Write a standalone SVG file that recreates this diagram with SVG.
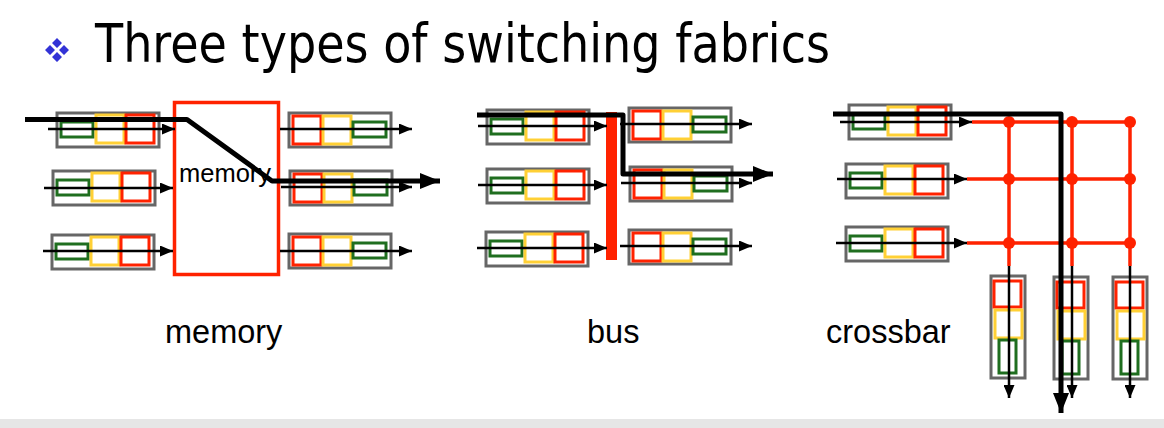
<svg xmlns="http://www.w3.org/2000/svg" xmlns:xlink="http://www.w3.org/1999/xlink" width="1164" height="428" viewBox="0 0 1164 428">
<style>
.box{fill:#fff;stroke:#666;stroke-width:3}
.g{fill:none;stroke:#1f6e1f;stroke-width:3}
.y{fill:none;stroke:#ffd035;stroke-width:3}
.r{fill:none;stroke:#ff2200;stroke-width:3}
.thin{fill:none;stroke:#000;stroke-width:2.5;marker-end:url(#ah)}
.thick{fill:none;stroke:#000;stroke-width:5;stroke-linejoin:round;marker-end:url(#bh)}
.xbar{fill:none;stroke:#ff2200;stroke-width:3.5}
.dot{fill:#ff2200}
.lbl{font-family:"Liberation Sans",Arial,sans-serif;font-size:32.5px;fill:#000}
.title{font-family:"DejaVu Sans",Tahoma,sans-serif;font-size:54px;fill:#000}
.bul{fill:#3333d6}
</style>
<defs>
<marker id="ah" markerUnits="userSpaceOnUse" markerWidth="13" markerHeight="11" refX="13" refY="5.5" orient="auto"><path d="M0,0 L13,5.5 L0,11 z" fill="#000"/></marker>
<marker id="bh" markerUnits="userSpaceOnUse" markerWidth="20" markerHeight="18" refX="20" refY="9" orient="auto"><path d="M0,1 L20,9 L0,17 z" fill="#000"/></marker>
<g id="inport"><rect class="box" x="0" y="0" width="102" height="34"/><rect class="g" x="4" y="9" width="32" height="15"/><rect class="y" x="39" y="2" width="28" height="28"/><rect class="r" x="69" y="2" width="28" height="28"/></g>
<g id="outport"><rect class="box" x="0" y="0" width="102" height="34"/><rect class="r" x="4" y="3" width="28" height="28"/><rect class="y" x="34" y="3" width="28" height="28"/><rect class="g" x="64" y="9" width="33" height="15"/></g>
<g id="colport"><rect class="box" x="0" y="0" width="34" height="102"/><rect class="r" x="3" y="5" width="27" height="26"/><rect class="y" x="4" y="34" width="27" height="28"/><rect class="g" x="8" y="64" width="17" height="33"/></g>
</defs>
<rect x="0" y="0" width="1164" height="428" fill="#fff"/>
<rect x="0" y="419" width="1164" height="9" fill="#e6e6e6"/>
<g id="title">
<path class="bul" d="M57,38 L62,43 L57,48 L52,43 z M50,45 L55,50 L50,55 L45,50 z M64,45 L69,50 L64,55 L59,50 z M57,52 L62,57 L57,62 L52,57 z"/>
<text class="title" x="95" y="62" textLength="735" lengthAdjust="spacingAndGlyphs">Three types of switching fabrics</text>
</g>
<g id="memory-fabric">
<rect x="174.5" y="102.5" width="104" height="172" fill="#fff" stroke="#ff2200" stroke-width="3.5"/>
<text x="179" y="182" font-family="Liberation Sans, Arial, sans-serif" font-size="25.5" fill="#000">memory</text>
</g>
<g id="mem-in1"><use xlink:href="#inport" x="57" y="113"/></g>
<g id="mem-in2"><use xlink:href="#inport" x="53" y="171"/></g>
<g id="mem-in3"><use xlink:href="#inport" x="52" y="235"/></g>
<g id="mem-out1"><use xlink:href="#outport" x="289" y="113"/></g>
<g id="mem-out2"><use xlink:href="#outport" x="290" y="171"/></g>
<g id="mem-out3"><use xlink:href="#outport" x="289" y="234"/></g>
<g id="bus-bar"><rect x="606" y="112" width="11" height="148" fill="#ff2200"/></g>
<g id="bus-in1"><use xlink:href="#inport" x="487" y="110"/></g>
<g id="bus-in2"><use xlink:href="#inport" x="487" y="169"/></g>
<g id="bus-in3"><use xlink:href="#inport" x="486" y="232"/></g>
<g id="bus-out1"><use xlink:href="#outport" x="629" y="108"/></g>
<g id="bus-out2"><use xlink:href="#outport" x="630" y="167"/></g>
<g id="bus-out3"><use xlink:href="#outport" x="629" y="230"/></g>
<g id="cb-in1"><use xlink:href="#inport" x="849" y="105"/></g>
<g id="cb-in2"><use xlink:href="#inport" x="846" y="164"/></g>
<g id="cb-in3"><use xlink:href="#inport" x="846" y="227"/></g>
<g id="cb-out1"><use xlink:href="#colport" x="991" y="276"/></g>
<g id="cb-out2"><use xlink:href="#colport" x="1054" y="277"/></g>
<g id="cb-out3"><use xlink:href="#colport" x="1113" y="277"/></g>
<g id="crossbar-grid">
<path class="xbar" d="M972,122 H1132 M967,179 H1132 M967,243 H1132 M1009,122 V266 M1072,122 V266 M1130,122 V266"/>
<circle class="dot" cx="1009" cy="122" r="6"/><circle class="dot" cx="1072" cy="122" r="6"/><circle class="dot" cx="1130" cy="122" r="6"/>
<circle class="dot" cx="1009" cy="179" r="6"/><circle class="dot" cx="1072" cy="179" r="6"/><circle class="dot" cx="1130" cy="179" r="6"/>
<circle class="dot" cx="1009" cy="243" r="6"/><circle class="dot" cx="1072" cy="243" r="6"/><circle class="dot" cx="1130" cy="243" r="6"/>
</g>
<g id="connectors">
<path class="thin" d="M48,129 H175"/>
<path class="thin" d="M44,188 H173"/>
<path class="thin" d="M43,251 H173"/>
<path class="thin" d="M280,129 H412"/>
<path class="thin" d="M281,187 H412"/>
<path class="thin" d="M280,251 H412"/>
<path class="thin" d="M478,126 H607"/>
<path class="thin" d="M478,185 H607"/>
<path class="thin" d="M477,248 H607"/>
<path class="thin" d="M620,124 H752"/>
<path class="thin" d="M621,183 H752"/>
<path class="thin" d="M620,246 H752"/>
<path class="thin" d="M840,122 H972"/>
<path class="thin" d="M837,179 H967"/>
<path class="thin" d="M836,243 H967"/>
<path class="thin" d="M1009,266 V398"/>
<path class="thin" d="M1072,266 V398"/>
<path class="thin" d="M1130,266 V398"/>
<path class="thick" d="M25,119.5 H187 L272,181 H440"/>
<path class="thick" d="M477,115 H623 V174 H773"/>
<path class="thick" d="M833,114 H1061 V413"/>
</g>
<g id="labels">
<text class="lbl" x="165" y="343">memory</text>
<text class="lbl" x="587" y="343">bus</text>
<text class="lbl" x="826" y="343">crossbar</text>
</g>
</svg>
